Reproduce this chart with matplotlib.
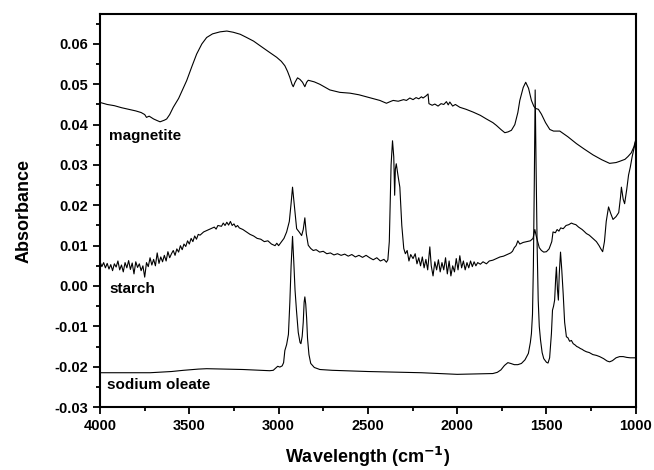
import matplotlib
matplotlib.use("Agg")
import matplotlib.pyplot as plt
from matplotlib.ticker import MultipleLocator

plt.rcParams['font.family'] = ['Liberation Sans', 'DejaVu Sans']
plt.rcParams['font.weight'] = 'bold'
plt.rcParams['mathtext.default'] = 'bf'

# --- spectra (wavenumber in cm-1, absorbance) ---
mag_x = [4000, 3960, 3920, 3880, 3840, 3800, 3770, 3750, 3740, 3725, 3700, 3680, 3664, 3640, 3627,
         3610, 3590, 3560, 3515, 3485, 3459, 3430, 3403, 3370, 3328, 3290, 3254, 3215, 3179, 3140,
         3105, 3060, 3011, 2985, 2965, 2950, 2937, 2925, 2918, 2908, 2894, 2880, 2866, 2853, 2843,
         2834, 2800, 2769, 2713, 2657, 2600, 2550, 2500, 2433, 2396, 2370, 2358, 2330, 2300, 2284,
         2265, 2247, 2230, 2215, 2200, 2191, 2175, 2163, 2158, 2140, 2125, 2107, 2090, 2075, 2060,
         2050, 2041, 2025, 2010, 1985, 1950, 1910, 1870, 1836, 1800, 1780, 1755, 1733, 1715, 1696,
         1677, 1660, 1649, 1630, 1616, 1600, 1584, 1570, 1560, 1545, 1528, 1505, 1481, 1460, 1425,
         1380, 1332, 1290, 1239, 1190, 1146, 1110, 1090, 1060, 1043, 1025, 1010, 1000]
mag_y = [0.0455, 0.0450, 0.0447, 0.0442, 0.0438, 0.0434, 0.0430, 0.0425, 0.0418, 0.0421, 0.0414,
         0.0410, 0.0407, 0.0411, 0.0414, 0.0425, 0.0443, 0.0465, 0.0509, 0.0545, 0.0575, 0.0600,
         0.0616, 0.0625, 0.0630, 0.0632, 0.0629, 0.0624, 0.0616, 0.0607, 0.0596, 0.0582, 0.0567,
         0.0557, 0.0546, 0.0532, 0.0517, 0.0500, 0.0494, 0.0505, 0.0516, 0.0512, 0.0505, 0.0494,
         0.0505, 0.0510, 0.0506, 0.0500, 0.0486, 0.0480, 0.0478, 0.0474, 0.0468, 0.0460, 0.0453,
         0.0458, 0.0460, 0.0458, 0.0462, 0.0460, 0.0466, 0.0462, 0.0467, 0.0464, 0.0469, 0.0466,
         0.0471, 0.0476, 0.0452, 0.0448, 0.0451, 0.0446, 0.0452, 0.0450, 0.0457, 0.0449, 0.0456,
         0.0446, 0.0450, 0.0443, 0.0438, 0.0431, 0.0423, 0.0414, 0.0405, 0.0398, 0.0388, 0.0380,
         0.0382, 0.0386, 0.0400, 0.0430, 0.0460, 0.0492, 0.0505, 0.0490, 0.0460, 0.0445, 0.0440,
         0.0438, 0.0426, 0.0405, 0.0388, 0.0384, 0.0384, 0.0370, 0.0353, 0.0340, 0.0325, 0.0313,
         0.0304, 0.0306, 0.0309, 0.0314, 0.0321, 0.0330, 0.0345, 0.0362]

starch_x = [4000, 3990, 3980, 3970, 3960, 3950, 3940, 3930, 3920, 3910, 3900, 3890, 3880, 3870, 3860,
            3850, 3840, 3830, 3820, 3810, 3800, 3790, 3780, 3770, 3760, 3750, 3740, 3730, 3720, 3710,
            3700, 3690, 3680, 3670, 3660, 3650, 3640, 3630, 3620, 3610, 3600, 3590, 3580, 3570, 3560,
            3550, 3540, 3530, 3520, 3510, 3500, 3490, 3480, 3470, 3460, 3450, 3440, 3420, 3400, 3380,
            3360, 3350, 3340, 3320, 3310, 3300, 3290, 3280, 3270, 3260, 3250, 3240, 3230, 3220, 3200,
            3180, 3160, 3140, 3120, 3100, 3080, 3060, 3040, 3020, 3010, 3000, 2990, 2970, 2955, 2940,
            2930, 2922, 2912, 2899, 2885, 2871, 2862, 2853, 2845, 2834, 2820, 2806, 2790, 2770, 2750,
            2730, 2710, 2690, 2670, 2650, 2630, 2610, 2590, 2570, 2550, 2530, 2510, 2490, 2470, 2450,
            2430, 2410, 2396, 2388, 2380, 2370, 2362, 2355, 2350, 2346, 2341, 2330, 2321, 2310, 2299,
            2290, 2280, 2270, 2260, 2247, 2235, 2225, 2215, 2205, 2195, 2185, 2175, 2165, 2153, 2145,
            2135, 2125, 2115, 2105, 2095, 2085, 2075, 2065, 2055, 2045, 2035, 2025, 2015, 2005, 1995,
            1985, 1975, 1965, 1955, 1945, 1935, 1925, 1915, 1905, 1895, 1885, 1870, 1855, 1836, 1820,
            1800, 1780, 1760, 1740, 1720, 1700, 1690, 1680, 1670, 1660, 1649, 1630, 1610, 1590, 1575,
            1565, 1555, 1540, 1528, 1515, 1500, 1485, 1470, 1463, 1450, 1440, 1430, 1420, 1406, 1390,
            1375, 1360, 1350, 1335, 1320, 1300, 1290, 1276, 1260, 1240, 1220, 1205, 1195, 1185, 1175,
            1165, 1152, 1140, 1127, 1110, 1095, 1085, 1080, 1070, 1062, 1050, 1040, 1030, 1020, 1010,
            1000]
starch_y = [0.0060, 0.0048, 0.0058, 0.0045, 0.0056, 0.0042, 0.0053, 0.0038, 0.0055, 0.0047, 0.0062,
            0.0040, 0.0052, 0.0035, 0.0058, 0.0045, 0.0063, 0.0041, 0.0057, 0.0030, 0.0060, 0.0046,
            0.0055, 0.0038, 0.0050, 0.0022, 0.0058, 0.0048, 0.0070, 0.0052, 0.0066, 0.0050, 0.0082,
            0.0056, 0.0072, 0.0060, 0.0076, 0.0062, 0.0085, 0.0070, 0.0080, 0.0088, 0.0076, 0.0092,
            0.0084, 0.0100, 0.0090, 0.0104, 0.0098, 0.0112, 0.0104, 0.0118, 0.0110, 0.0124, 0.0116,
            0.0128, 0.0126, 0.0134, 0.0138, 0.0142, 0.0146, 0.0141, 0.0150, 0.0148, 0.0156, 0.0150,
            0.0158, 0.0151, 0.0160, 0.0150, 0.0154, 0.0146, 0.0150, 0.0144, 0.0140, 0.0134, 0.0128,
            0.0124, 0.0118, 0.0116, 0.0110, 0.0112, 0.0104, 0.0100, 0.0106, 0.0100, 0.0106, 0.0118,
            0.0134, 0.0160, 0.0205, 0.0245, 0.0200, 0.0142, 0.0134, 0.0125, 0.0140, 0.0169, 0.0130,
            0.0101, 0.0093, 0.0088, 0.0090, 0.0084, 0.0086, 0.0080, 0.0082, 0.0077, 0.0080, 0.0076,
            0.0079, 0.0074, 0.0078, 0.0072, 0.0076, 0.0071, 0.0076, 0.0070, 0.0065, 0.0070, 0.0062,
            0.0066, 0.0059, 0.0065, 0.0110, 0.0300, 0.0360, 0.0320, 0.0225, 0.0290, 0.0303, 0.0270,
            0.0245, 0.0150, 0.0093, 0.0080, 0.0088, 0.0062, 0.0078, 0.0068, 0.0080, 0.0055, 0.0070,
            0.0050, 0.0072, 0.0045, 0.0066, 0.0040, 0.0097, 0.0050, 0.0025, 0.0060, 0.0040, 0.0065,
            0.0035, 0.0058, 0.0040, 0.0070, 0.0030, 0.0062, 0.0025, 0.0050, 0.0035, 0.0068, 0.0040,
            0.0075, 0.0045, 0.0062, 0.0040, 0.0058, 0.0045, 0.0062, 0.0048, 0.0060, 0.0050, 0.0058,
            0.0054, 0.0060, 0.0055, 0.0062, 0.0064, 0.0068, 0.0072, 0.0074, 0.0078, 0.0082, 0.0086,
            0.0095, 0.0100, 0.0112, 0.0104, 0.0108, 0.0110, 0.0112, 0.0118, 0.0140, 0.0120, 0.0095,
            0.0088, 0.0084, 0.0085, 0.0092, 0.0110, 0.0134, 0.0132, 0.0140, 0.0136, 0.0144, 0.0142,
            0.0150, 0.0152, 0.0156, 0.0154, 0.0152, 0.0146, 0.0140, 0.0136, 0.0130, 0.0126, 0.0118,
            0.0110, 0.0100, 0.0092, 0.0085, 0.0110, 0.0160, 0.0196, 0.0180, 0.0165, 0.0172, 0.0182,
            0.0220, 0.0245, 0.0215, 0.0204, 0.0240, 0.0275, 0.0295, 0.0320, 0.0340, 0.0360]

oleate_x = [4000, 3800, 3720, 3600, 3533, 3450, 3403, 3300, 3200, 3100, 3050, 3030, 3015, 3005, 2993,
            2980, 2972, 2965, 2955, 2945, 2937, 2930, 2922, 2915, 2908, 2900, 2890, 2880, 2875, 2868,
            2862, 2857, 2853, 2848, 2843, 2838, 2830, 2820, 2800, 2769, 2700, 2500, 2300, 2200, 2100,
            2000, 1900, 1800, 1775, 1755, 1735, 1716, 1700, 1680, 1660, 1640, 1620, 1601, 1590, 1584,
            1578, 1573, 1568, 1563, 1558, 1552, 1546, 1540, 1533, 1524, 1515, 1500, 1491, 1482, 1472,
            1466, 1460, 1454, 1448, 1444, 1438, 1433, 1428, 1421, 1414, 1406, 1398, 1388, 1380, 1370,
            1360, 1350, 1340, 1330, 1320, 1310, 1300, 1290, 1276, 1260, 1240, 1220, 1202, 1180, 1160,
            1146, 1130, 1110, 1090, 1070, 1050, 1030, 1000]
oleate_y = [-0.0215, -0.0215, -0.0215, -0.0212, -0.0209, -0.0206, -0.0205, -0.0206, -0.0207, -0.0209,
            -0.0210, -0.0209, -0.0203, -0.0199, -0.0201, -0.0198, -0.0190, -0.0160, -0.0145, -0.0120,
            -0.0040, 0.0050, 0.0123, 0.0060, -0.0010, -0.0060, -0.0115, -0.0140, -0.0143, -0.0125,
            -0.0090, -0.0040, -0.0027, -0.0045, -0.0080, -0.0130, -0.0170, -0.0192, -0.0202, -0.0207,
            -0.0209, -0.0212, -0.0214, -0.0215, -0.0217, -0.0219, -0.0218, -0.0217, -0.0214, -0.0208,
            -0.0197, -0.0190, -0.0192, -0.0195, -0.0195, -0.0192, -0.0183, -0.0167, -0.0140, -0.0118,
            -0.0070, 0.0050, 0.0250, 0.0486, 0.0300, 0.0100, -0.0035, -0.0100, -0.0134, -0.0165,
            -0.0180, -0.0189, -0.0191, -0.0178, -0.0118, -0.0060, -0.0050, -0.0035, 0.0020, 0.0047,
            -0.0010, -0.0035, 0.0030, 0.0084, 0.0040, -0.0020, -0.0090, -0.0126, -0.0128, -0.0137,
            -0.0135, -0.0143, -0.0146, -0.0150, -0.0152, -0.0155, -0.0157, -0.0160, -0.0163, -0.0165,
            -0.0170, -0.0172, -0.0175, -0.0180, -0.0186, -0.0188, -0.0185, -0.0178, -0.0175, -0.0175,
            -0.0177, -0.0178, -0.0178]

# --- Plotting ---
fig = plt.figure(figsize=(6.54, 4.70), dpi=100)
ax = fig.add_axes([0.153, 0.134, 0.819, 0.836])

ax.plot(mag_x, mag_y, color='black', lw=0.8)
ax.plot(starch_x, starch_y, color='black', lw=0.8)
ax.plot(oleate_x, oleate_y, color='black', lw=0.8)

ax.text(3950, 0.0372, "magnetite", fontsize=11, fontweight='bold', va='center')
ax.text(3945, -0.0008, "starch", fontsize=11, fontweight='bold', va='center')
ax.text(3960, -0.0245, "sodium oleate", fontsize=11, fontweight='bold', va='center')

ax.set_xlim(4000, 1000)
ax.set_ylim(-0.03, 0.0674)
ax.xaxis.set_major_locator(MultipleLocator(500))
ax.xaxis.set_minor_locator(MultipleLocator(250))
ax.yaxis.set_major_locator(MultipleLocator(0.01))
ax.yaxis.set_minor_locator(MultipleLocator(0.005))
ax.yaxis.set_major_formatter(plt.FormatStrFormatter('%.2f'))
ax.tick_params(which='both', direction='out', top=False, right=False, width=1.3, labelsize=10.5)
ax.tick_params(which='major', length=5)
ax.tick_params(which='minor', length=3)
for lab in ax.get_xticklabels() + ax.get_yticklabels():
    lab.set_fontweight('bold')
for sp in ax.spines.values():
    sp.set_linewidth(1.5)

ax.set_xlabel("Wavelength (cm$^{-1}$)", fontsize=13, fontweight='bold', labelpad=9)
ax.set_ylabel("Absorbance", fontsize=13, fontweight='bold', labelpad=16)

fig.savefig("out.png", dpi=100)
